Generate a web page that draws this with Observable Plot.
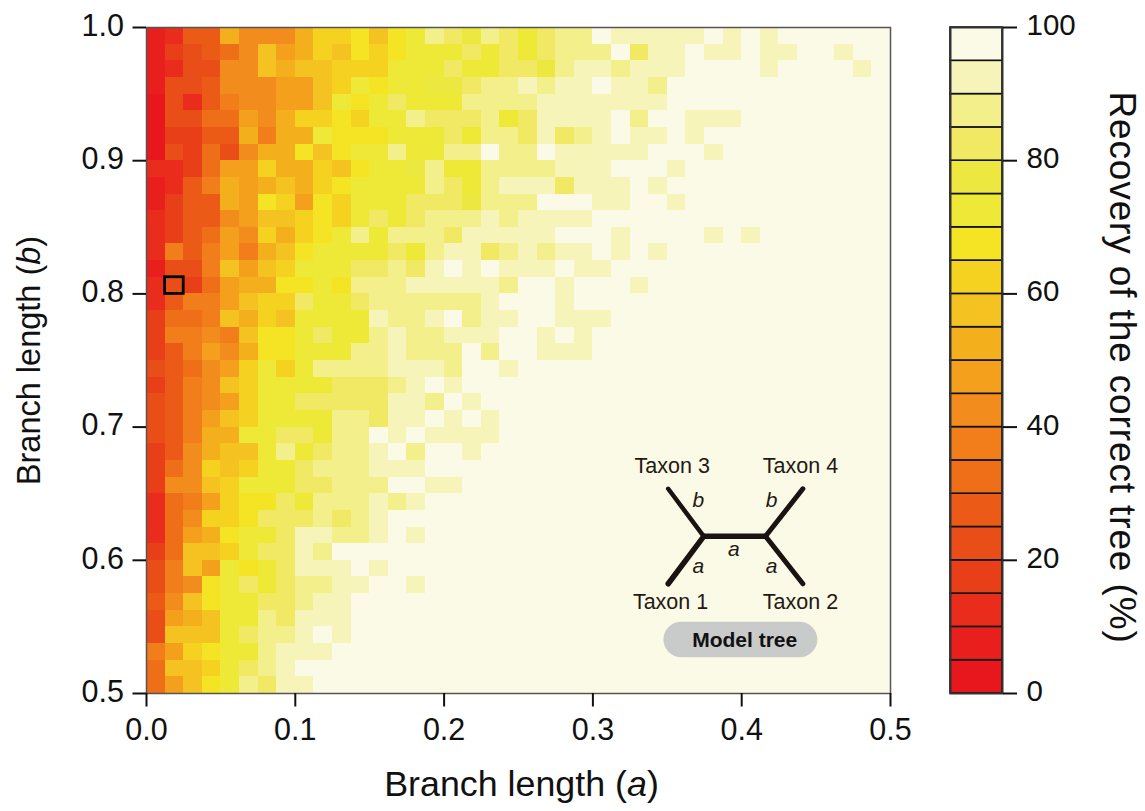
<!DOCTYPE html>
<html>
<head>
<meta charset="utf-8">
<script src="https://cdn.jsdelivr.net/npm/d3@7"></script>
<script src="https://cdn.jsdelivr.net/npm/@observablehq/plot@0.6"></script>
<style>
html,body{margin:0;padding:0;background:#fff;}
#wrap{display:flex;width:1145px;height:811px;overflow:hidden;}
svg{display:block;font-family:"Liberation Sans",Arial,sans-serif;}
</style>
</head>
<body>
<div id="wrap"></div>
<script>
// Each row (top = b 1.0) holds 40 cells; each character is a 5 % bin index, base 20 (0-9, a-j).
const heatRows = [
"1255a888accdbdehgfhgeghhjiiiiijijijjjjjj",
"134568b9acbdcdeeegegeghhhjgiijiijiijjijj",
"124488babbccceeegeeggfhiihiiijjjjijjjjij",
"144588899bcedeeffghhihiijiihjjjjjjjjjjjj",
"042578899bedegeeehhhhiiiiiiijjjjjjjjjjjj",
"0446698accdceehggghegiiiijhjjiiijjjjjjjj",
"03355a7aaedddeeegehhgighijiijijjjjjjjjjj",
"043648aadbdeeheehhjhhjiiiiijjjijjjjjjjjj",
"223699caacbdeefheehhhhiiijjjijjjjjjjjjjj",
"1257a9abacdeeeehgehiiigiiijijjjjjjjjjjjj",
"1355a9dc9dceeegggfhhhjjjiijjijjjjjjjjjjj",
"235589bbcdcegeghhhihiiiijjjjjjjjjjjjjjjj",
"235698cacdehehhhgiiiiijjjijjjjijijjjjjjj",
"275797abdeeeegehiighihiijijijjjjjjjjjjjj",
"1447b9bceeegghgijijiiijiijjjjjjjjjjjjjjj",
"24369aaddedhhhiiiiihjjijjjijjjjjjjjjjjjj",
"25779bccgeeghhhhhhijjjijjjjjjjjjjjjjjjjj",
"3667bacbeeeeihhijhiijjiiijjjjjjjjjjjjjjj",
"37787bddegeehihhiiijjijijjjjjjjjjjjjjjjj",
"35798addeeehhihhhjhjjiiijjjjjjjjjjjjjjjj",
"45689cecehhhhiiihjjijjjjjjjjjjjjjjjjjjjj",
"3578bceeeeggghijijjjjjjjjjjjjjjjjjjjjjjj",
"45789ceegggggiihjijjjjjjjjjjjjjjjjjjjjjj",
"4579bceeeehhgiijijijjjjjjjjjjjjjjjjjjjjj",
"457aaeeggehhjijiiiijjjjjjjjjjjjjjjjjjjjj",
"358abbeheghhijhjjijjjjjjjjjjjjjjjjjjjjjj",
"368cbceeghhhiiijjjjjjjjjjjjjjjjjjjjjjjjj",
"388bceeegghhhjjiijjjjjjjjjjjjjjjjjjjjjjj",
"2679cddgehhhihijjjjjjjjjjjjjjjjjjjjjjjjj",
"268ccdggghghijjjjjjjjjjjjjjjjjjjjjjjjjjj",
"269adeegiihhijijjjjjjjjjjjjjjjjjjjjjjjjj",
"36bbceggihjjjjjjjjjjjjjjjjjjjjjjjjjjjjjj",
"47b9edegiiijijjjjjjjjjjjjjjjjjjjjjjjjjjj",
"478degeghhiijjijjjjjjjjjjjjjjjjjjjjjjjjj",
"58bdeegghiijjjjjjjjjjjjjjjjjjjjjjjjjjjjj",
"49abeehgiiijjjjjjjjjjjjjjjjjjjjjjjjjjjjj",
"4bbbeghhijijjjjjjjjjjjjjjjjjjjjjjjjjjjjj",
"79cdeehiiijjjjjjjjjjjjjjjjjjjjjjjjjjjjjj",
"6bbceghijjjjjjjjjjjjjjjjjjjjjjjjjjjjjjjj",
"69bdehgiijjjjjjjjjjjjjjjjjjjjjjjjjjjjjjj"
];
const palette = ["#E8171D","#E91F1D","#E92C1C","#E83F18","#E94E18","#EB5B17","#EE6F17","#F17E1A","#F28C1C","#F4A01C","#F4AF1C","#F4C221","#F6D220","#F4E424","#EEE836","#EDE83F","#F1E963","#F3F08B","#F6F4B8","#FBFAE6"];
const binEdges = [5,10,15,20,25,30,35,40,45,50,55,60,65,70,75,80,85,90,95];
const xTicks = [0,0.1,0.2,0.3,0.4,0.5];
const yTicks = [0.5,0.6,0.7,0.8,0.9,1.0];
const colorTicks = [0,20,40,60,80,100];
const cellA = 0.0125, cellB = 0.0125, aMin = 0, bMax = 1;
const highlighted = {col:1,row:15};

// Inset model tree, in the chart's own units
const treeEdges = [
  {x1:0.3506,y1:0.6537,x2:0.3745,y2:0.618,w:4.5},
  {x1:0.3506,y1:0.5824,x2:0.3745,y2:0.618,w:5.5},
  {x1:0.3745,y1:0.618,x2:0.416,y2:0.618,w:5.5},
  {x1:0.416,y1:0.618,x2:0.4411,y2:0.6537,w:5},
  {x1:0.416,y1:0.618,x2:0.4411,y2:0.5824,w:5}
];
const taxonLabels = [
  {t:"Taxon 3",x:0.3533,y:0.6706},{t:"Taxon 4",x:0.4395,y:0.6706},
  {t:"Taxon 1",x:0.3522,y:0.5685},{t:"Taxon 2",x:0.4395,y:0.5685}
];
const branchLabels = [
  {t:"b",x:0.3708,y:0.6452},{t:"b",x:0.4201,y:0.6452},
  {t:"a",x:0.3708,y:0.5955},{t:"a",x:0.3948,y:0.6081},{t:"a",x:0.4201,y:0.5955}
];
const pill = [{x1:0.3477,x2:0.4512,y1:0.5268,y2:0.5535}];
const pillLabel = [{t:"Model tree",x:0.402,y:0.5401}];

// Tables built from the arrays above
const cells = heatRows.flatMap((r,row)=>Array.from(r,(ch,col)=>{
  const lvl=parseInt(ch,20);
  return {x1:aMin+col*cellA,x2:aMin+(col+1)*cellA,y1:bMax-(row+1)*cellB,y2:bMax-row*cellB,pct:lvl*5+2.5};
}));
const hi = cells[highlighted.row*40+highlighted.col];
const bar = palette.map((c,i)=>({y1:i*5,y2:(i+1)*5,pct:i*5+2.5}));
const colorScale = {type:"threshold",domain:binEdges,range:palette};
const ink = "#111";

const main = Plot.plot({
  width:940,height:811,marginLeft:146,marginRight:50,marginTop:27,marginBottom:118,
  style:{background:"transparent",fontFamily:'"Liberation Sans",Arial,sans-serif',overflow:"visible"},
  x:{domain:[0,0.5]},y:{domain:[0.5,1]},color:colorScale,
  marks:[
    Plot.rect(cells,{x1:"x1",x2:"x2",y1:"y1",y2:"y2",fill:"pct",shapeRendering:"crispEdges"}),
    Plot.frame({stroke:"#555",strokeWidth:1.5}),
    Plot.rect([hi],{x1:"x1",x2:"x2",y1:"y1",y2:"y2",fill:"none",stroke:"#000",strokeWidth:2.8}),
    Plot.rect(pill,{x1:"x1",x2:"x2",y1:"y1",y2:"y2",fill:"#C9CACA",rx:18}),
    ...treeEdges.map(e=>Plot.line([[e.x1,e.y1],[e.x2,e.y2]],{stroke:"#1a1311",strokeWidth:e.w,strokeLinecap:"round"})),
    Plot.text(taxonLabels,{x:"x",y:"y",text:"t",fontSize:21.5,fill:"#231815"}),
    Plot.text(branchLabels,{x:"x",y:"y",text:"t",fontSize:21,fontStyle:"italic",fill:"#231815"}),
    Plot.text(pillLabel,{x:"x",y:"y",text:"t",fontSize:21,fontWeight:"bold",fill:"#111"}),
    Plot.axisX({ticks:xTicks,tickFormat:d3.format(".1f"),tickSize:13.5,tickPadding:11,fontSize:30.5,label:null,stroke:ink,strokeWidth:2,color:ink}),
    Plot.axisY({ticks:yTicks,tickFormat:d3.format(".1f"),tickSize:13.5,tickPadding:9,fontSize:30.5,label:null,stroke:ink,strokeWidth:2,color:ink}),
    Plot.text(["Branch length (a)"],{frameAnchor:"bottom",dx:3,dy:91.5,text:d=>d,fontSize:35.8,lineAnchor:"middle",fill:ink}),
    Plot.text(["Branch length (b)"],{frameAnchor:"left",dx:-116.5,rotate:-90,text:d=>d,textAnchor:"middle",fontSize:32.5,lineAnchor:"middle",fill:ink})
  ]
});

const legend = Plot.plot({
  width:205,height:811,marginLeft:10,marginRight:143,marginTop:27,marginBottom:118,
  style:{background:"transparent",fontFamily:'"Liberation Sans",Arial,sans-serif',overflow:"visible"},
  x:{domain:[0,1],axis:null},y:{domain:[0,100]},color:colorScale,
  marks:[
    Plot.rect(bar,{x1:0,x2:1,y1:"y1",y2:"y2",fill:"pct",stroke:"#111",strokeWidth:1.6}),
    Plot.frame({stroke:"#333",strokeWidth:2}),
    Plot.axisY({anchor:"right",ticks:colorTicks,tickSize:14,tickPadding:10,fontSize:29.5,label:null,stroke:ink,strokeWidth:2,color:ink}),
    Plot.text(["Recovery of the correct tree (%)"],{frameAnchor:"right",dx:119,dy:7,rotate:90,text:d=>d,textAnchor:"middle",fontSize:37,lineAnchor:"middle",fill:ink})
  ]
});

// italicise the branch symbol in the two axis titles
d3.select(main).selectAll("text").each(function(){
  const m=/^Branch length \((a|b)\)$/.exec(this.textContent);
  if(!m) return;
  const s=d3.select(this).text("");
  s.append("tspan").text("Branch length (");
  s.append("tspan").attr("font-style","italic").text(m[1]);
  s.append("tspan").text(")");
});
// the long colour-bar title is tracked out slightly in the reference
d3.select(legend).selectAll("text").filter(function(){return this.textContent.startsWith("Recovery");}).attr("letter-spacing",0.87);
// vertical tick labels sit a little above their ticks
for (const [svg,up] of [[main,1.5],[legend,2]]) {
  d3.select(svg).selectAll('g[aria-label="y-axis tick label"]').each(function(){
    const t=this.getAttribute("transform")||"";
    this.setAttribute("transform",t+" translate(0,"+(-up)+")");
  });
}

document.getElementById("wrap").append(main,legend);
</script>
</body>
</html>
